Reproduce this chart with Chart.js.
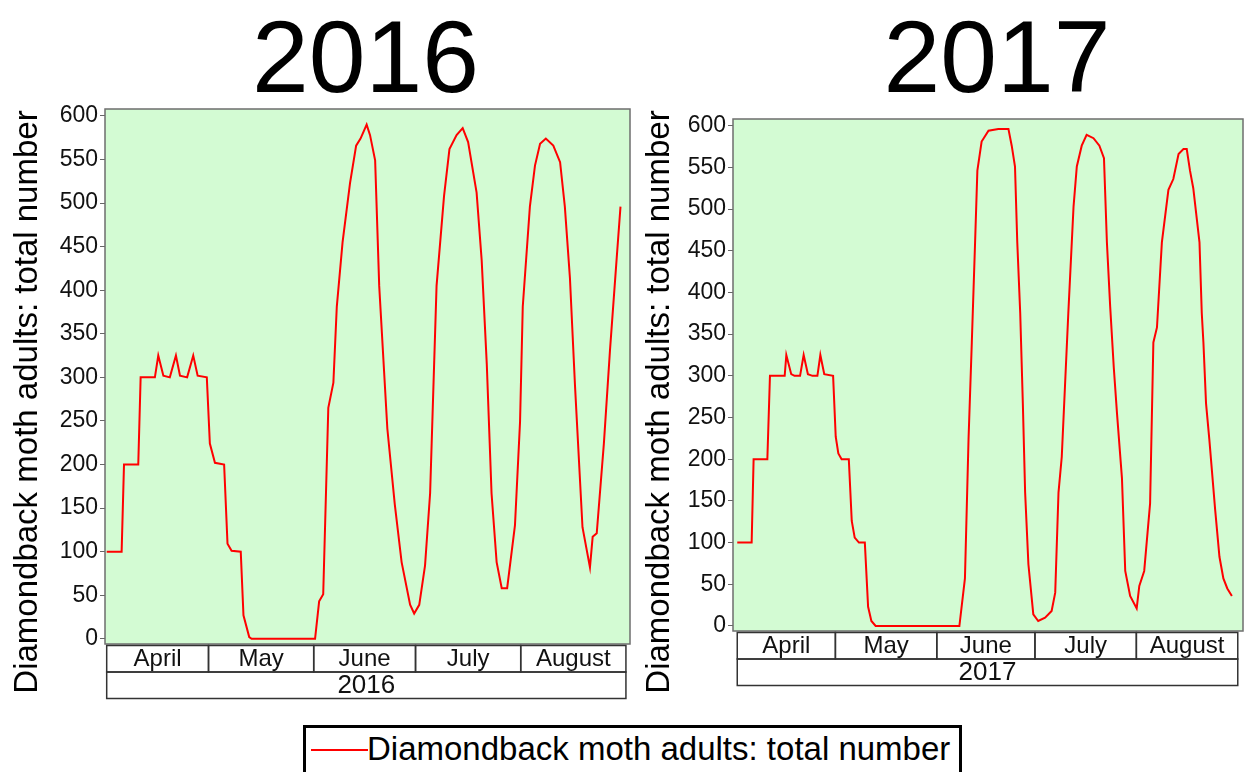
<!DOCTYPE html>
<html>
<head>
<meta charset="utf-8">
<title>Diamondback moth adults 2016 / 2017</title>
<script src="https://cdn.jsdelivr.net/npm/chart.js@4.4.1/dist/chart.umd.min.js"></script>
<style>
  body { margin: 0; background: #fff; width: 1248px; height: 772px; overflow: hidden; position: relative; font-family: 'Liberation Sans', Arial, sans-serif; }
  canvas { position: absolute; top: 0; }
  #c2016 { left: 0; }
  #c2017 { left: 640px; }
  #legend { position: absolute; left: 303px; top: 725px; width: 653px; height: 60px; border: 3px solid #000; background: #fff; }
  #legend .swatch { position: absolute; left: 5px; top: 21px; width: 57px; height: 2px; background: #ff0000; }
  #legend .label { position: absolute; left: 61px; top: 2px; font-size: 33px; color: #000; white-space: nowrap; }
</style>
</head>
<body>
<canvas id="c2016" width="640" height="712"></canvas>
<canvas id="c2017" width="608" height="712"></canvas>
<div id="legend"><span class="swatch"></span><span class="label">Diamondback moth adults: total number</span></div>

<script>
// --- data (day 0 = 1 April) ---
const seriesLabel = 'Diamondback moth adults: total number';
const months = ['April', 'May', 'June', 'July', 'August'];
const monthStartDay = [0, 30, 61, 91, 122, 153];
const yTicks = [0, 50, 100, 150, 200, 250, 300, 350, 400, 450, 500, 550, 600];

const days2016 = [
  0, 4.4, 5.1, 9.3, 10, 14.2, 15.2, 16.7, 18.6, 20.4,
  21.6, 23.7, 25.5, 26.8, 29.5, 30.4, 31.9, 34.6, 35.6, 36.8,
  39.5, 40.3, 42, 42.7, 61.4, 62.6, 63.8, 65.3, 66.8, 67.8,
  69.5, 71.7, 73.5, 74.8, 76.6, 77.6, 79.1, 80.3, 82.7, 84.9,
  86.9, 89.4, 90.6, 92.1, 93.8, 95.3, 97.2, 99.4, 101, 103.1,
  104.9, 106.5, 109, 110.5, 112, 113.4, 114.9, 116.4, 118, 120.3,
  121.8, 122.6, 124.7, 126.2, 127.7, 129.4, 131.6, 133.6, 135, 136.5,
  138, 140.2, 142.4, 143.2, 144.4, 146.5, 148.3, 150.3, 151.4
];
const values2016 = [
  100, 100, 200, 200, 300, 300, 325, 302, 300, 325,
  302, 300, 325, 302, 300, 224, 202, 200, 109, 101,
  100, 27, 2, 0, 0, 43, 51, 265, 294, 381,
  455, 523, 566, 574, 590, 578, 549, 405, 241, 154,
  88, 39, 29, 39, 84, 167, 405, 508, 562, 578,
  586, 570, 512, 434, 315, 167, 88, 58, 58, 130,
  249, 381, 496, 543, 568, 574, 566, 547, 496, 414,
  290, 128, 82, 117, 121, 224, 331, 438, 496
];

const days2017 = [
  0, 4.4, 5, 9.2, 10, 14.5, 15, 16.5, 17.5, 19.2,
  20.3, 21.6, 23, 24.5, 25.4, 26.6, 29.3, 30.1, 30.9, 31.9,
  34.1, 35, 35.9, 37.2, 39, 40, 41, 42.3, 67.9, 69.6,
  70.7, 71.7, 72.7, 73.4, 74.7, 76.8, 79.8, 82.9, 83.9, 84.9,
  85.6, 86.5, 87.3, 88, 89, 90.5, 92, 94.1, 96.1, 97.2,
  98.2, 99.2, 100.2, 101.2, 102.8, 103.8, 105.3, 106.8, 108.9, 110.7,
  112.1, 113, 114, 115.1, 116.1, 117.6, 118.6, 120.1, 122.1, 122.9,
  124.4, 126.2, 127.2, 128.3, 129.8, 131.8, 133.3, 134.9, 136.4, 137.4,
  138.4, 139.4, 141.3, 142, 142.5, 143.3, 144.3, 146.1, 147.4, 148.6,
  149.8, 151.2
];
const values2017 = [
  100, 100, 200, 200, 300, 300, 325, 302, 300, 300,
  325, 302, 300, 300, 325, 302, 300, 227, 207, 200,
  200, 126, 106, 100, 100, 23, 6, 0, 0, 57,
  224, 340, 460, 546, 581, 594, 596, 596, 576, 551,
  460, 375, 267, 160, 74, 14, 6, 10, 18, 40,
  160, 203, 289, 375, 503, 551, 576, 589, 585, 576,
  561, 460, 383, 310, 254, 177, 66, 36, 21, 48,
  66, 147, 340, 358, 460, 523, 536, 566, 572, 572,
  546, 525, 460, 375, 340, 267, 224, 139, 83, 57,
  45, 36
];

const FONT = "'Liberation Sans', Arial, sans-serif";

// green plot area, frame, month/year boxes, big title and rotated y title
const framePlugin = {
  id: 'frame',
  beforeDraw(chart) {
    const a = chart.chartArea, ctx = chart.ctx;
    ctx.save();
    ctx.fillStyle = '#d3fbd3';
    ctx.fillRect(a.left, a.top, a.right - a.left, a.bottom - a.top);
    ctx.restore();
  },
  afterDraw(chart, args, opts) {
    const a = chart.chartArea, ctx = chart.ctx, xs = chart.scales.x;
    ctx.save();
    ctx.strokeStyle = '#6e6e6e';
    ctx.lineWidth = 1.5;
    ctx.strokeRect(a.left, a.top, a.right - a.left, a.bottom - a.top);

    const top = a.bottom + 1.5, h = opts.rowHeight;
    ctx.strokeStyle = '#333';
    ctx.fillStyle = '#111';
    ctx.font = '24px ' + FONT;
    ctx.textAlign = 'center';
    ctx.textBaseline = 'middle';
    for (let i = 0; i < months.length; i++) {
      const x0 = xs.getPixelForValue(monthStartDay[i]);
      const x1 = xs.getPixelForValue(monthStartDay[i + 1]);
      ctx.strokeRect(x0, top, x1 - x0, h);
      ctx.fillText(months[i], (x0 + x1) / 2, top + h / 2 + 1);
    }
    const xa = xs.getPixelForValue(monthStartDay[0]);
    const xb = xs.getPixelForValue(monthStartDay[months.length]);
    ctx.strokeRect(xa, top + h, xb - xa, h);
    ctx.font = '26px ' + FONT;
    ctx.fillText(opts.year, (xa + xb) / 2, top + h * 1.5 + 1);

    // title
    ctx.fillStyle = '#000';
    ctx.font = '102px ' + FONT;
    ctx.textBaseline = 'alphabetic';
    ctx.fillText(opts.year, (a.left + a.right) / 2 + opts.titleShift, 92);

    // y axis title
    ctx.translate(opts.yTitleX, 402);
    ctx.rotate(-Math.PI / 2);
    ctx.font = '33px ' + FONT;
    ctx.textBaseline = 'middle';
    ctx.fillText(seriesLabel, 0, 0);
    ctx.restore();
  }
};

function makeChart(id, year, days, values, cfg) {
  const points = days.map((d, i) => ({ x: d, y: values[i] }));
  return new Chart(document.getElementById(id), {
    type: 'line',
    data: {
      datasets: [{
        label: seriesLabel,
        data: points,
        borderColor: '#ff0000',
        borderWidth: 2,
        pointRadius: 0,
        tension: 0,
        fill: false
      }]
    },
    options: {
      responsive: false,
      devicePixelRatio: 1,
      animation: false,
      layout: { padding: cfg.padding },
      plugins: {
        legend: { display: false },
        tooltip: { enabled: false },
        frame: { year: year, rowHeight: 26.5, titleShift: cfg.titleShift, yTitleX: cfg.yTitleX }
      },
      scales: {
        x: { type: 'linear', display: false, min: cfg.xMin, max: cfg.xMax },
        y: {
          min: -6,
          max: 608,
          afterBuildTicks: s => { s.ticks = yTicks.map(v => ({ value: v })); },
          afterFit: s => { s.width = 55; },
          border: { display: false },
          grid: { drawOnChartArea: false, drawTicks: true, tickLength: 5, color: '#666' },
          ticks: { font: { size: 23, family: FONT }, color: '#111', padding: 2 }
        }
      }
    },
    plugins: [framePlugin]
  });
}

makeChart('c2016', '2016', days2016, values2016, {
  padding: { top: 109, bottom: 68, left: 50, right: 10 },
  xMin: -0.5, xMax: 154.2, titleShift: -2, yTitleX: 28
});
makeChart('c2017', '2017', days2017, values2017, {
  padding: { top: 119, bottom: 81, left: 38, right: 5 },
  xMin: -1.3, xMax: 154.6, titleShift: 9, yTitleX: 20
});
</script>
</body>
</html>
